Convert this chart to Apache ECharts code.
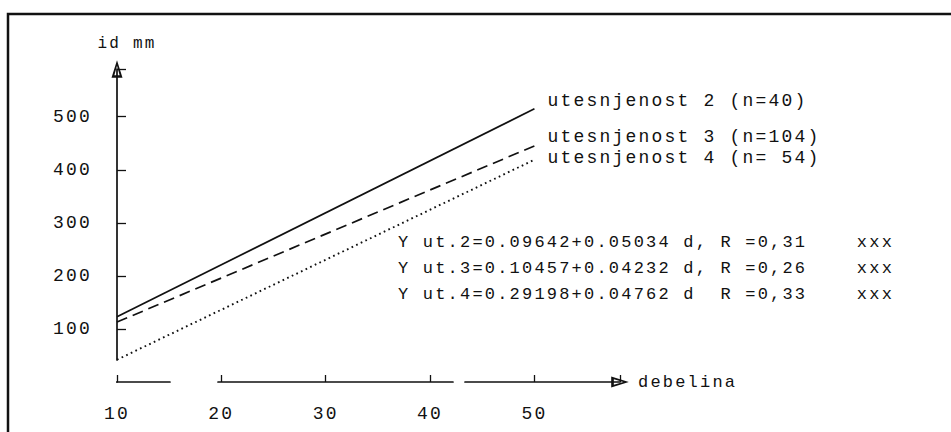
<!DOCTYPE html>
<html>
<head>
<meta charset="utf-8">
<script src="https://cdn.jsdelivr.net/npm/echarts@6/dist/echarts.min.js"></script>
<style>
html,body{margin:0;padding:0;background:#fff;}
#chart{width:951px;height:432px;}
svg text{letter-spacing:2.2px;}
</style>
</head>
<body>
<div id="chart"></div>
<script>
// ---- data ----
const xValues = [10, 50];
const ut2 = [123, 515];
const ut3 = [113, 445];
const ut4 = [42, 419];
const seriesNames = ['utesnjenost 2 (n=40)', 'utesnjenost 3 (n=104)', 'utesnjenost 4 (n= 54)'];
const xTickLabels = [10, 20, 30, 40, 50];
const yTickLabels = [100, 200, 300, 400, 500];
const equations = [
  'Y ut.2=0.09642+0.05034 d, R =0,31    xxx',
  'Y ut.3=0.10457+0.04232 d, R =0,26    xxx',
  'Y ut.4=0.29198+0.04762 d  R =0,33    xxx'
];
const yName = 'id mm';
const xName = 'debelina';

// ---- chart ----
const FONT = "'Liberation Mono', 'DejaVu Sans Mono', monospace";
const INK = '#111';
const FS = 18;
const pairs = ys => xValues.map((x, i) => [x, ys[i]]);
const arrowPath = 'path://M5,0 L10,16 L0,16 Z M5,5 L2.6,13.6 L7.4,13.6 Z';

const chart = echarts.init(document.getElementById('chart'), null, {renderer: 'svg'});

function lineSeries(name, ys, type, width, off) {
  return {
    type: 'line', name: name, data: pairs(ys),
    symbol: 'none', silent: true, clip: false,
    lineStyle: {color: INK, width: width, type: type},
    endLabel: {
      show: true, formatter: '{a}', distance: 0, offset: off,
      color: INK, fontFamily: FONT, fontSize: FS
    }
  };
}

chart.setOption({
  animation: false,
  backgroundColor: '#fff',
  grid: {left: 117, right: 331, top: 69, bottom: 50},
  xAxis: {
    type: 'value', min: 10, max: 58.2, interval: 10,
    splitLine: {show: false},
    name: xName, nameLocation: 'end', nameGap: 18,
    nameTextStyle: {color: INK, fontFamily: FONT, fontSize: FS - 1, align: 'left', verticalAlign: 'middle', padding: [0, 0, 12, 0]},
    axisLine: {
      show: true, onZero: false,
      lineStyle: {color: INK, width: 1.7, type: [53, 48, 235, 12, 400]},
      symbol: ['none', arrowPath], symbolSize: [11, 18]
    },
    axisTick: {show: true, inside: true, length: 7, lineStyle: {color: INK, width: 1.3}},
    axisLabel: {
      color: INK, fontFamily: FONT, fontSize: FS, margin: 23,
      formatter: v => (xTickLabels.indexOf(v) >= 0 ? String(v) : '')
    }
  },
  yAxis: {
    type: 'value', min: 0, max: 590, interval: 100,
    splitLine: {show: false},
    name: yName, nameLocation: 'end', nameGap: 17,
    nameTextStyle: {color: INK, fontFamily: FONT, fontSize: FS - 2, padding: [0, 0, 0, 20]},
    axisLine: {
      show: true, onZero: false,
      lineStyle: {color: INK, width: 1.7, type: [0, 22, 2000]},
      symbol: ['none', arrowPath], symbolSize: [11, 18]
    },
    axisTick: {show: true, inside: true, length: 9, lineStyle: {color: INK, width: 1.3}},
    axisLabel: {
      color: INK, fontFamily: FONT, fontSize: FS, margin: 25,
      showMinLabel: false,
      formatter: v => (yTickLabels.indexOf(v) >= 0 ? String(v) : '')
    }
  },
  series: [
    lineSeries(seriesNames[0], ut2, 'solid', 1.7, [13, -8]),
    lineSeries(seriesNames[1], ut3, [11, 6], 1.7, [13, -9]),
    lineSeries(seriesNames[2], ut4, [1.7, 3.4], 1.9, [13, -2])
  ],
  graphic: [
    {type: 'rect', silent: true, shape: {x: 8, y: 14, width: 990, height: 480},
     style: {fill: 'none', stroke: INK, lineWidth: 2.5}},
    ...equations.map((t, i) => ({
      type: 'text', silent: true, x: 398, y: 242 + i * 26,
      style: {text: t, fill: INK, fontFamily: FONT, fontSize: FS - 1, verticalAlign: 'middle', align: 'left'}
    }))
  ]
});
</script>
</body>
</html>
